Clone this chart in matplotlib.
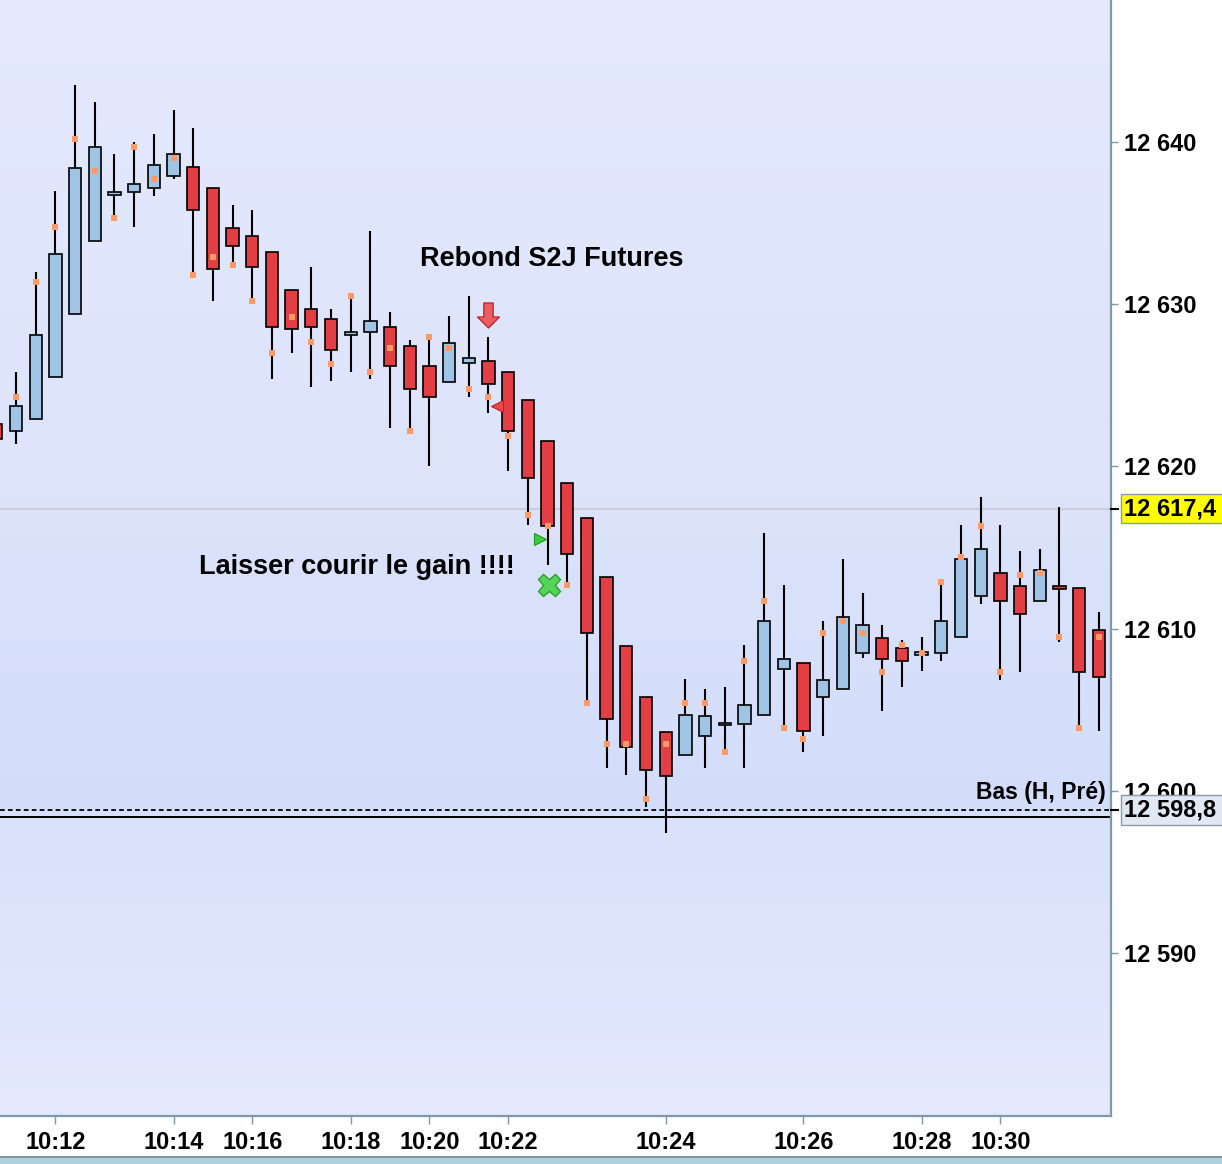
import numpy as np
import matplotlib
matplotlib.use("Agg")
import matplotlib.pyplot as plt
from matplotlib.path import Path
from matplotlib.patches import Rectangle
from matplotlib.colors import to_rgb

# ---------------- data ----------------
opens = [12622.6, 12622.2, 12622.9, 12625.5, 12629.4, 12633.9, 12636.8, 12636.9, 12637.2, 12637.9,
         12638.5, 12637.2, 12634.7, 12634.2, 12633.2, 12630.9, 12629.7, 12629.1, 12628.15, 12628.3,
         12628.6, 12627.4, 12626.2, 12625.2, 12626.4, 12626.5, 12625.8, 12624.1, 12621.6, 12619.0,
         12616.8, 12613.2, 12608.9, 12605.8, 12603.6, 12602.2, 12603.4, 12604.05, 12604.1, 12604.7,
         12607.5, 12607.9, 12605.8, 12606.3, 12608.5, 12609.4, 12608.8, 12608.4, 12608.5, 12609.5,
         12612.0, 12613.4, 12612.6, 12611.7, 12612.6, 12612.5, 12609.9]
highs = [12622.8, 12625.8, 12632.0, 12637.0, 12643.5, 12642.5, 12639.3, 12640.0, 12640.5, 12642.0,
         12640.9, 12637.2, 12636.1, 12635.8, 12633.2, 12630.9, 12632.3, 12629.7, 12630.7, 12634.5,
         12629.5, 12627.8, 12628.1, 12629.3, 12630.5, 12628.0, 12625.8, 12624.1, 12621.6, 12619.0,
         12616.8, 12613.2, 12608.9, 12605.8, 12603.6, 12606.9, 12606.3, 12606.4, 12609.0, 12615.9,
         12612.7, 12607.9, 12610.5, 12614.3, 12612.2, 12610.2, 12609.3, 12609.5, 12613.0, 12616.4,
         12618.1, 12616.4, 12614.8, 12614.9, 12617.5, 12612.5, 12611.0]
lows = [12621.4, 12621.4, 12622.9, 12625.5, 12629.4, 12633.9, 12635.3, 12634.8, 12636.7, 12637.7,
        12631.8, 12630.2, 12632.4, 12630.2, 12625.4, 12627.0, 12624.9, 12625.3, 12625.8, 12625.4,
        12622.4, 12622.2, 12620.0, 12625.2, 12624.3, 12623.3, 12619.7, 12616.4, 12613.9, 12612.5,
        12605.3, 12601.4, 12601.0, 12599.0, 12597.4, 12602.2, 12601.4, 12602.4, 12601.4, 12604.7,
        12603.9, 12602.4, 12603.4, 12606.3, 12608.2, 12604.9, 12606.4, 12607.4, 12608.0, 12609.5,
        12611.5, 12606.8, 12607.3, 12611.7, 12609.2, 12603.7, 12603.7]
closes = [12621.7, 12623.7, 12628.1, 12633.1, 12638.4, 12639.7, 12636.9, 12637.4, 12638.6, 12639.3,
          12635.8, 12632.2, 12633.6, 12632.3, 12628.6, 12628.5, 12628.6, 12627.2, 12628.25, 12629.0,
          12626.2, 12624.8, 12624.3, 12627.6, 12626.7, 12625.1, 12622.2, 12619.3, 12616.3, 12614.6,
          12609.7, 12604.4, 12602.7, 12601.3, 12600.9, 12604.7, 12604.6, 12604.2, 12605.3, 12610.5,
          12608.1, 12603.7, 12606.8, 12610.7, 12610.2, 12608.1, 12608.0, 12608.5, 12610.5, 12614.3,
          12614.9, 12611.7, 12610.9, 12613.6, 12612.5, 12607.3, 12607.0]
dots = [np.nan, 12624.3, 12631.4, 12634.8, 12640.2, 12638.2, 12635.3, 12639.7, 12637.7, 12639.0,
        12631.8, 12632.9, 12632.4, 12630.2, 12627.0, 12629.2, 12627.7, 12626.3, 12630.5, 12625.8,
        12627.3, 12622.2, 12628.0, 12627.3, 12624.8, 12624.3, 12621.9, 12617.0, 12616.3, 12612.7,
        12605.4, 12602.9, 12602.9, 12599.5, 12602.9, 12605.4, 12605.4, 12602.4, 12608.0, 12611.7,
        12603.9, 12603.2, 12609.7, 12610.5, 12609.7, 12607.3, 12609.0, 12608.5, 12612.9, 12614.4,
        12616.3, 12607.3, 12613.3, 12613.4, 12609.5, 12603.9, 12609.5]

time_tick_idx = [3, 9, 13, 18, 22, 26, 34, 41, 47, 51]
time_tick_labels = ["10:12", "10:14", "10:16", "10:18", "10:20", "10:22",
                    "10:24", "10:26", "10:28", "10:30"]
price_ticks = [12590, 12600, 12610, 12620, 12630, 12640]

last_price = 12617.4
prev_low = 12598.8
low_line = 12598.4

sell_arrow = (25, 12629.36)
sell_tri = (25.45, 12623.7)
buy_tri = (27.64, 12615.55)
exit_x = (28.08, 12612.7)

# ---------------- styling ----------------
plt.rcParams['font.family'] = ['Liberation Sans', 'DejaVu Sans']
W, H = 1222, 1164
fig = plt.figure(figsize=(W / 100, H / 100), dpi=100)
fig.patch.set_facecolor('white')
ax = fig.add_axes([0, 1 - 1116 / H, 1111 / W, 1116 / H])

# background gradient
stops = [(0.0, '#e4e9fd'), (0.45, '#dce3fb'), (0.725, '#d3ddfa'),
         (0.735, '#d9e1fb'), (1.0, '#e4e9fd')]
t = np.linspace(0, 1, 800)
cols = np.array([to_rgb(cc) for _, cc in stops])
pos = [p for p, _ in stops]
img = np.stack([np.interp(t, pos, cols[:, k]) for k in range(3)], axis=1)[:, None, :]
ax.imshow(img, extent=[0, 1, 0, 1], transform=ax.transAxes, aspect='auto',
          zorder=0, interpolation='bilinear')

blue = '#a0c4e6'
red = '#e23e44'

o = np.array(opens); c = np.array(closes)
hi = np.array(highs); lo = np.array(lows)
x = np.arange(len(o))
up = c >= o
mid = (o + c) / 2
bh = np.maximum(np.abs(c - o), 0.16)
bottom = mid - bh / 2

ax.vlines(x, lo, hi, color='black', lw=1.5, zorder=2)
ax.bar(x, bh, width=0.625, bottom=bottom, color=np.where(up, blue, red),
       edgecolor='black', linewidth=1.2, zorder=3)
ax.plot(x, dots, ls='none', marker='s', ms=4.4, color='#ff9966', mew=0, zorder=4)

# horizontal reference lines
ax.axhline(last_price, color='#c5c9d2', lw=1.1, zorder=1)
ax.axhline(prev_low, color='black', lw=1.3, dashes=(2.6, 1.8), zorder=1)
ax.axhline(low_line, color='black', lw=1.4, zorder=1)

# signal markers
arrow_verts = [(-4.5, 12), (4.5, 12), (4.5, -1.5), (10.5, -1.5), (0, -12),
               (-10.5, -1.5), (-4.5, -1.5), (-4.5, 12)]
arrow_codes = [Path.MOVETO] + [Path.LINETO] * 6 + [Path.CLOSEPOLY]
ax.plot(*sell_arrow, marker=Path(arrow_verts, arrow_codes), ms=18,
        mfc='#ec5d61', mec='#c2282d', mew=1, zorder=6)
ax.plot(*sell_tri, marker='<', ms=8.5, mfc='#e8474c', mec='#c02025', mew=0.8, zorder=6)
ax.plot(*buy_tri, marker='>', ms=8.5, mfc='#3bcc3b', mec='#1f9a1f', mew=0.8, zorder=6)
ax.plot(*exit_x, marker='X', ms=16, mfc='#55d455', mec='#2e9e2e', mew=1, zorder=6)

# annotations
ax.text(28.2, 12632.78, "Rebond S2J Futures", ha='center', va='center',
        fontsize=19.5, fontweight='bold', color='black', zorder=7)
ax.text(18.29, 12613.77, "Laisser courir le gain !!!!", ha='center', va='center',
        fontsize=19.5, fontweight='bold', color='black', zorder=7)
ax.text(1106 / 1111, 12599.88, "Bas (H, Pré)", ha='right', va='center',
        transform=ax.get_yaxis_transform(), fontsize=16.5, fontweight='bold',
        color='black', zorder=7)

# axes
ax.set_xlim(0.187, 56.62)
ax.set_ylim(12579.94, 12648.77)
ax.yaxis.tick_right()
ax.set_yticks(price_ticks)
ax.set_yticklabels([f"{v:,}".replace(",", " ") for v in price_ticks])
ax.set_xticks(time_tick_idx)
ax.set_xticklabels(time_tick_labels)
ax.tick_params(axis='y', length=5, width=1, color='#7f9aa6', pad=4,
               labelsize=17, labelcolor='black')
ax.tick_params(axis='x', length=6, width=1, color='#7f9aa6', pad=5,
               labelsize=17, labelcolor='black')
for lab in ax.get_xticklabels() + ax.get_yticklabels():
    lab.set_fontweight('bold')
for s in ['top', 'left']:
    ax.spines[s].set_visible(False)
for s in ['right', 'bottom']:
    ax.spines[s].set_color('#7f9aa6')
    ax.spines[s].set_linewidth(1.6)

# price labels on the right axis (boxes run off the right edge as in the reference)
ytr = ax.get_yaxis_transform()
for val, fc in [(last_price, '#ffff00'), (prev_low, '#e1e8f4')]:
    ax.plot([1.0, 1.0065], [val, val], transform=ytr, clip_on=False,
            color='black', lw=1.5, zorder=9)
    txt = f"{val:,.1f}".replace(",", " ").replace(".", ",") + "  "
    ax.text(1124 / 1111, val, txt, transform=ytr, ha='left', va='center',
            fontsize=17, fontweight='bold', color='black', zorder=10,
            clip_on=False,
            bbox=dict(boxstyle='square,pad=0.14', facecolor=fc,
                      edgecolor='#8c9aa8', lw=1))

# bottom window strip
fig.add_artist(Rectangle((0, 0), 1, 6 / H, transform=fig.transFigure,
                         facecolor='#aecfdc', edgecolor='none'))
fig.add_artist(Rectangle((0, 6 / H), 1, 2.5 / H, transform=fig.transFigure,
                         facecolor='#7d98a4', edgecolor='none'))

fig.savefig("out.png", dpi=100)
